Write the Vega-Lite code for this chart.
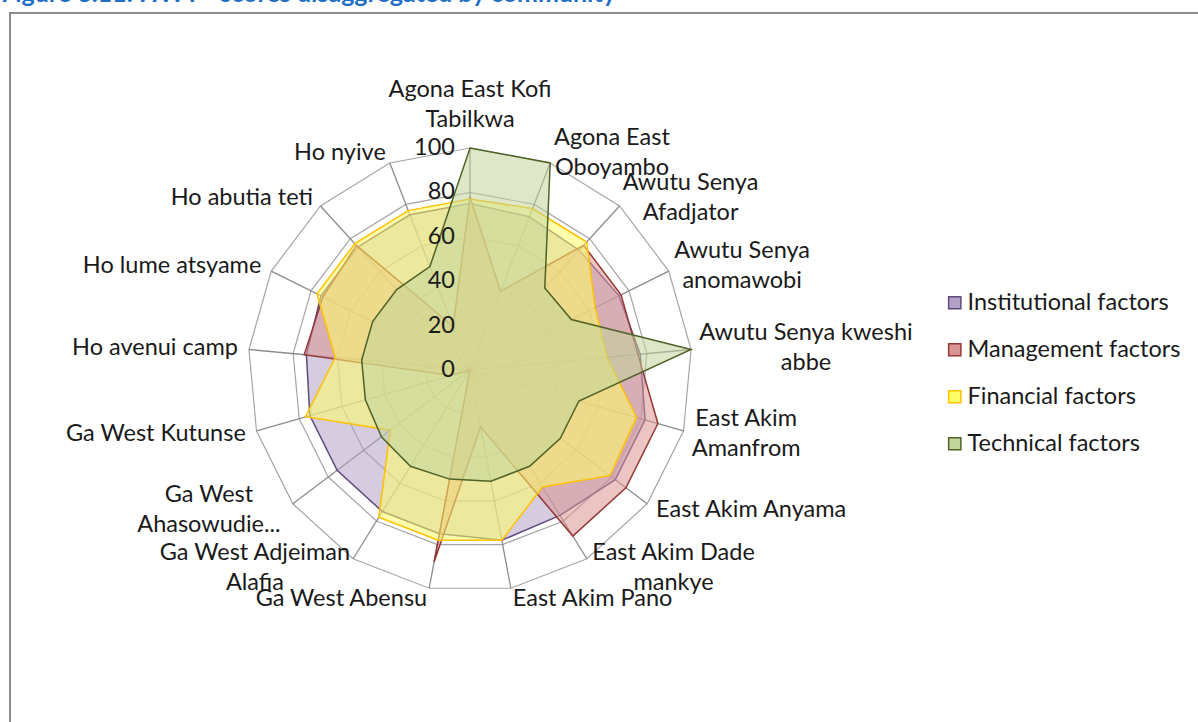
{
  "$schema": "https://vega.github.io/schema/vega-lite/v6.json",
  "width": 1195,
  "height": 720,
  "autosize": {"type": "none"},
  "padding": {"left": 10, "top": 13, "right": 0, "bottom": 0},
  "background": "white",
  "title": {
    "text": "Figure 3.11: HWT - scores disaggregated by community",
    "anchor": "start",
    "frame": "group",
    "dx": -9,
    "offset": -19,
    "baseline": "bottom",
    "fontSize": 25,
    "fontWeight": "bold",
    "color": "#1F6FC5",
    "font": "Lato"
  },
  "config": {
    "view": {"stroke": "#8C8C8C", "strokeWidth": 2},
    "font": "Lato",
    "legend": {
      "orient": "none",
      "legendX": 933,
      "legendY": 278,
      "padding": 0,
      "symbolType": "square",
      "symbolSize": 150,
      "symbolStrokeWidth": 1.5,
      "labelFontSize": 23.5,
      "labelFont": "Lato",
      "labelColor": "#1a1a1a",
      "labelOffset": 1,
      "rowPadding": 22,
      "labelLimit": 400
    }
  },
  "datasets": {
    "scores": [
      {"i": 0, "community": "Agona East Kofi\nTabilkwa", "Institutional factors": 75, "Management factors": 78, "Financial factors": 77, "Technical factors": 100},
      {"i": 1, "community": "Agona East\nOboyambo", "Institutional factors": 74, "Management factors": 38, "Financial factors": 78, "Technical factors": 100},
      {"i": 2, "community": "Awutu Senya\nAfadjator", "Institutional factors": 73, "Management factors": 76, "Financial factors": 78, "Technical factors": 50},
      {"i": 3, "community": "Awutu Senya\nanomawobi", "Institutional factors": 75, "Management factors": 76, "Financial factors": 63, "Technical factors": 51},
      {"i": 4, "community": "Awutu Senya kweshi\nabbe", "Institutional factors": 77, "Management factors": 76, "Financial factors": 62, "Technical factors": 100},
      {"i": 5, "community": "East Akim\nAmanfrom", "Institutional factors": 82, "Management factors": 88, "Financial factors": 78, "Technical factors": 51},
      {"i": 6, "community": "East Akim Anyama", "Institutional factors": 82, "Management factors": 88, "Financial factors": 79, "Technical factors": 51},
      {"i": 7, "community": "East Akim Dade\nmankye", "Institutional factors": 77, "Management factors": 88, "Financial factors": 62, "Technical factors": 51},
      {"i": 8, "community": "East Akim Pano", "Institutional factors": 78, "Management factors": 26, "Financial factors": 78, "Technical factors": 51},
      {"i": 9, "community": "Ga West Abensu", "Institutional factors": 75, "Management factors": 88, "Financial factors": 78, "Technical factors": 50},
      {"i": 10, "community": "Ga West Adjeiman\nAlafia", "Institutional factors": 75, "Management factors": 0, "Financial factors": 78, "Technical factors": 51},
      {"i": 11, "community": "Ga West\nAhasowudie...", "Institutional factors": 75, "Management factors": 0, "Financial factors": 45, "Technical factors": 50},
      {"i": 12, "community": "Ga West Kutunse", "Institutional factors": 75, "Management factors": 9, "Financial factors": 77, "Technical factors": 49},
      {"i": 13, "community": "Ho avenui camp", "Institutional factors": 74, "Management factors": 75, "Financial factors": 61, "Technical factors": 49},
      {"i": 14, "community": "Ho lume atsyame", "Institutional factors": 75, "Management factors": 74, "Financial factors": 77, "Technical factors": 49},
      {"i": 15, "community": "Ho abutia teti", "Institutional factors": 75, "Management factors": 76, "Financial factors": 77, "Technical factors": 49},
      {"i": 16, "community": "Ho nyive", "Institutional factors": 75, "Management factors": 21, "Financial factors": 77, "Technical factors": 50}
    ],
    "rings": [
      {"r": 20, "k": [0, 1, 2, 3, 4, 5, 6, 7, 8, 9, 10, 11, 12, 13, 14, 15, 16]},
      {"r": 40, "k": [0, 1, 2, 3, 4, 5, 6, 7, 8, 9, 10, 11, 12, 13, 14, 15, 16]},
      {"r": 60, "k": [0, 1, 2, 3, 4, 5, 6, 7, 8, 9, 10, 11, 12, 13, 14, 15, 16]},
      {"r": 80, "k": [0, 1, 2, 3, 4, 5, 6, 7, 8, 9, 10, 11, 12, 13, 14, 15, 16]},
      {"r": 100, "k": [0, 1, 2, 3, 4, 5, 6, 7, 8, 9, 10, 11, 12, 13, 14, 15, 16]}
    ],
    "ticks": [{"v": 0}, {"v": 20}, {"v": 40}, {"v": 60}, {"v": 80}, {"v": 100}]
  },
  "encoding": {
    "x": {"field": "px", "type": "quantitative", "scale": {"domain": [-207.21, 331.08], "nice": false, "zero": false}, "axis": null},
    "y": {"field": "py", "type": "quantitative", "scale": {"domain": [-163.51, 160.81], "nice": false, "zero": false}, "axis": null}
  },
  "layer": [
    {
      "data": {"name": "rings"},
      "transform": [
        {"flatten": ["k"]},
        {"calculate": "datum.k*2*PI/17", "as": "th"},
        {"calculate": "datum.r*sin(datum.th)", "as": "px"},
        {"calculate": "datum.r*cos(datum.th)", "as": "py"}
      ],
      "mark": {"type": "line", "interpolate": "linear-closed", "stroke": "#A6A6A6", "strokeWidth": 1.2},
      "encoding": {
        "detail": {"field": "r", "type": "nominal"},
        "order": {"field": "k", "type": "quantitative"}
      }
    },
    {
      "data": {"name": "scores"},
      "transform": [
        {"calculate": "datum.i*2*PI/17", "as": "th"},
        {"calculate": "100*sin(datum.th)", "as": "px"},
        {"calculate": "100*cos(datum.th)", "as": "py"}
      ],
      "mark": {"type": "rule", "stroke": "#8C8C8C", "strokeWidth": 1.3},
      "encoding": {
        "x2": {"datum": 0},
        "y2": {"datum": 0}
      }
    },
    {
      "data": {"name": "scores"},
      "transform": [
        {"calculate": "datum.i*2*PI/17", "as": "th"},
        {"calculate": "datum['Institutional factors']*sin(datum.th)", "as": "px"},
        {"calculate": "datum['Institutional factors']*cos(datum.th)", "as": "py"}
      ],
      "mark": {"type": "line", "interpolate": "linear-closed", "strokeWidth": 1.5, "fillOpacity": 0.55},
      "encoding": {
        "order": {"field": "i", "type": "quantitative"},
        "fill": {"datum": "Institutional factors", "type": "nominal",
          "scale": {"domain": ["Institutional factors", "Management factors", "Financial factors", "Technical factors"], "range": ["#B3A2C7", "#D99694", "#FFFF66", "#C3D69B"]},
          "legend": {"title": null, "symbolOpacity": 1, "encode": {"symbols": {"update": {"fillOpacity": {"value": 0.55}}}}}},
        "stroke": {"datum": "Institutional factors", "type": "nominal",
          "scale": {"domain": ["Institutional factors", "Management factors", "Financial factors", "Technical factors"], "range": ["#604A7B", "#953735", "#FFC000", "#4F6228"]},
          "legend": {"title": null, "encode": {"symbols": {"update": {"fillOpacity": {"value": 0.55}}}}}}
      }
    },
    {
      "data": {"name": "scores"},
      "transform": [
        {"calculate": "datum.i*2*PI/17", "as": "th"},
        {"calculate": "datum['Management factors']*sin(datum.th)", "as": "px"},
        {"calculate": "datum['Management factors']*cos(datum.th)", "as": "py"}
      ],
      "mark": {"type": "line", "interpolate": "linear-closed", "strokeWidth": 1.5, "fillOpacity": 0.55},
      "encoding": {
        "order": {"field": "i", "type": "quantitative"},
        "fill": {"datum": "Management factors", "type": "nominal"},
        "stroke": {"datum": "Management factors", "type": "nominal"}
      }
    },
    {
      "data": {"name": "scores"},
      "transform": [
        {"calculate": "datum.i*2*PI/17", "as": "th"},
        {"calculate": "datum['Financial factors']*sin(datum.th)", "as": "px"},
        {"calculate": "datum['Financial factors']*cos(datum.th)", "as": "py"}
      ],
      "mark": {"type": "line", "interpolate": "linear-closed", "strokeWidth": 1.5, "fillOpacity": 0.55},
      "encoding": {
        "order": {"field": "i", "type": "quantitative"},
        "fill": {"datum": "Financial factors", "type": "nominal"},
        "stroke": {"datum": "Financial factors", "type": "nominal"}
      }
    },
    {
      "data": {"name": "scores"},
      "transform": [
        {"calculate": "datum.i*2*PI/17", "as": "th"},
        {"calculate": "datum['Technical factors']*sin(datum.th)", "as": "px"},
        {"calculate": "datum['Technical factors']*cos(datum.th)", "as": "py"}
      ],
      "mark": {"type": "line", "interpolate": "linear-closed", "strokeWidth": 1.5, "fillOpacity": 0.55},
      "encoding": {
        "order": {"field": "i", "type": "quantitative"},
        "fill": {"datum": "Technical factors", "type": "nominal"},
        "stroke": {"datum": "Technical factors", "type": "nominal"}
      }
    },
    {
      "data": {"name": "ticks"},
      "transform": [
        {"calculate": "0", "as": "px"},
        {"calculate": "datum.v", "as": "py"}
      ],
      "mark": {"type": "text", "align": "right", "baseline": "middle", "dx": -15, "fontSize": 23.5, "font": "Lato", "color": "#1a1a1a"},
      "encoding": {"text": {"field": "v", "type": "quantitative"}}
    },
    {
      "data": {"name": "scores"},
      "transform": [
        {"filter": "datum.i == 0"},
        {"calculate": "0", "as": "px"},
        {"calculate": "120.7", "as": "py"}
      ],
      "mark": {"type": "text", "align": "center", "baseline": "bottom", "lineBreak": "\n", "lineHeight": 30, "fontSize": 23.5, "font": "Lato", "color": "#1a1a1a"},
      "encoding": {"text": {"field": "community", "type": "nominal"}}
    },
    {
      "data": {"name": "scores"},
      "transform": [
        {"calculate": "datum.i*2*PI/17", "as": "th"},
        {"calculate": "length(split(datum.community, '\\n'))", "as": "nl"},
        {"filter": "datum.nl == 1 && sin(datum.th) > 0"},
        {"calculate": "105*sin(datum.th)", "as": "px"},
        {"calculate": "105*cos(datum.th)", "as": "py"}
      ],
      "mark": {"type": "text", "align": "left", "baseline": "middle", "fontSize": 23.5, "font": "Lato", "color": "#1a1a1a"},
      "encoding": {"text": {"field": "community", "type": "nominal"}}
    },
    {
      "data": {"name": "scores"},
      "transform": [
        {"calculate": "datum.i*2*PI/17", "as": "th"},
        {"calculate": "length(split(datum.community, '\\n'))", "as": "nl"},
        {"filter": "datum.nl == 1 && sin(datum.th) < 0"},
        {"calculate": "105*sin(datum.th)", "as": "px"},
        {"calculate": "105*cos(datum.th)", "as": "py"}
      ],
      "mark": {"type": "text", "align": "right", "baseline": "middle", "fontSize": 23.5, "font": "Lato", "color": "#1a1a1a"},
      "encoding": {"text": {"field": "community", "type": "nominal"}}
    },
    {
      "data": {"name": "scores"},
      "transform": [
        {"calculate": "datum.i*2*PI/17", "as": "th"},
        {"calculate": "split(datum.community, '\\n')", "as": "parts"},
        {"calculate": "length(datum.parts)", "as": "nl"},
        {"filter": "datum.nl == 2 && datum.i != 0"},
        {"calculate": "max(length(datum.parts[0]), length(datum.parts[1]))", "as": "ml"},
        {"calculate": "105*sin(datum.th) + (sin(datum.th) > 0 ? 1 : -1)*datum.ml*2.6", "as": "px"},
        {"calculate": "105*cos(datum.th) + 6.76", "as": "py"}
      ],
      "mark": {"type": "text", "align": "center", "baseline": "middle", "lineBreak": "\n", "lineHeight": 30, "fontSize": 23.5, "font": "Lato", "color": "#1a1a1a"},
      "encoding": {"text": {"field": "community", "type": "nominal"}}
    }
  ]
}
